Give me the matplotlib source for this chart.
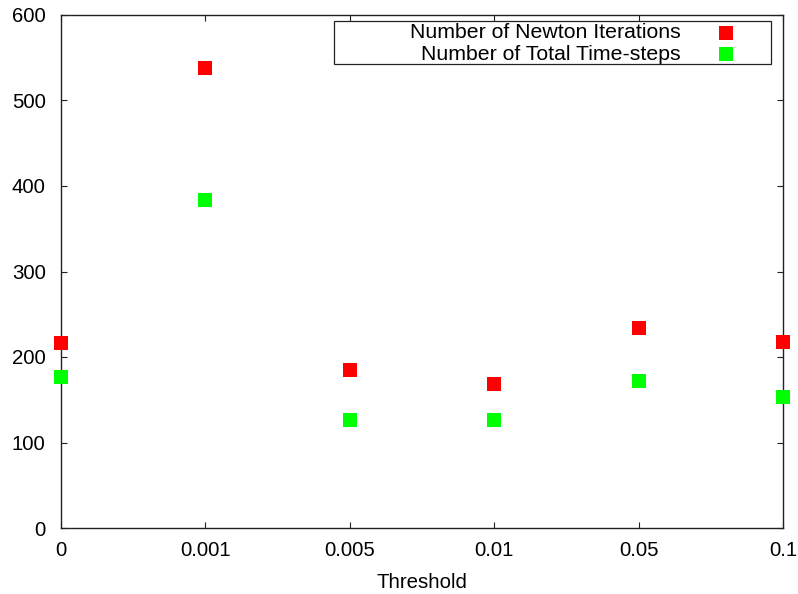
import matplotlib.pyplot as plt
from matplotlib.patches import Rectangle
from matplotlib.lines import Line2D

plt.rcParams['font.family'] = ['Liberation Sans', 'DejaVu Sans']

# Data
THRESHOLDS = ['0', '0.001', '0.005', '0.01', '0.05', '0.1']
NEWTON_ITERATIONS = [216, 538, 185, 168, 234, 217]
TOTAL_TIME_STEPS = [177, 384, 126, 126, 172, 153]
Y_TICKS = [0, 100, 200, 300, 400, 500, 600]

RED = '#ff0000'
GREEN = '#00ff00'
FONT_SIZE = 14.7
KEY_FONT_SIZE = 15.3

fig = plt.figure(figsize=(7.98, 5.94), dpi=100)
axes = fig.add_axes([61 / 798, 66 / 594, 722 / 798, 513 / 594])

positions = list(range(len(THRESHOLDS)))
axes.plot(positions, NEWTON_ITERATIONS, linestyle='none', marker='s', markersize=10.2,
          color=RED, markeredgewidth=0, clip_on=False, zorder=5)
axes.plot(positions, TOTAL_TIME_STEPS, linestyle='none', marker='s', markersize=10.2,
          color=GREEN, markeredgewidth=0, clip_on=False, zorder=5)

axes.set_xlim(0, len(THRESHOLDS) - 1)
axes.set_ylim(0, 600)
axes.set_xticks(positions)
axes.set_xticklabels(THRESHOLDS)
axes.set_yticks(Y_TICKS)
axes.tick_params(direction='in', length=4.5, width=0.8, top=True, right=True,
                 labelsize=FONT_SIZE, colors='#222222', labelcolor='black')
axes.tick_params(axis='x', pad=9)
axes.tick_params(axis='y', pad=11)
for spine in axes.spines.values():
    spine.set_linewidth(1.0)
    spine.set_color('#222222')
axes.set_xlabel('Threshold', fontsize=FONT_SIZE, labelpad=10)

# key box drawn in axes coordinates
def ax_x(px):
    return (px - 61) / 722


def ax_y(py):
    return (528 - py) / 513


axes.add_patch(Rectangle((ax_x(334), ax_y(64)), ax_x(771) - ax_x(334), ax_y(21) - ax_y(64),
                         transform=axes.transAxes, fill=False, edgecolor='#222222',
                         linewidth=0.9, zorder=6))
key_entries = [('Number of Newton Iterations', RED, 33),
               ('Number of Total Time-steps', GREEN, 54)]
for label, color, py in key_entries:
    axes.text(ax_x(681), ax_y(py), label, transform=axes.transAxes, ha='right', va='center',
              fontsize=KEY_FONT_SIZE, zorder=7)
    axes.add_line(Line2D([ax_x(726)], [ax_y(py)], transform=axes.transAxes, marker='s',
                         markersize=10.2, color=color, markeredgewidth=0, linestyle='none',
                         clip_on=False, zorder=7))

fig.savefig('out.png', dpi=100)
